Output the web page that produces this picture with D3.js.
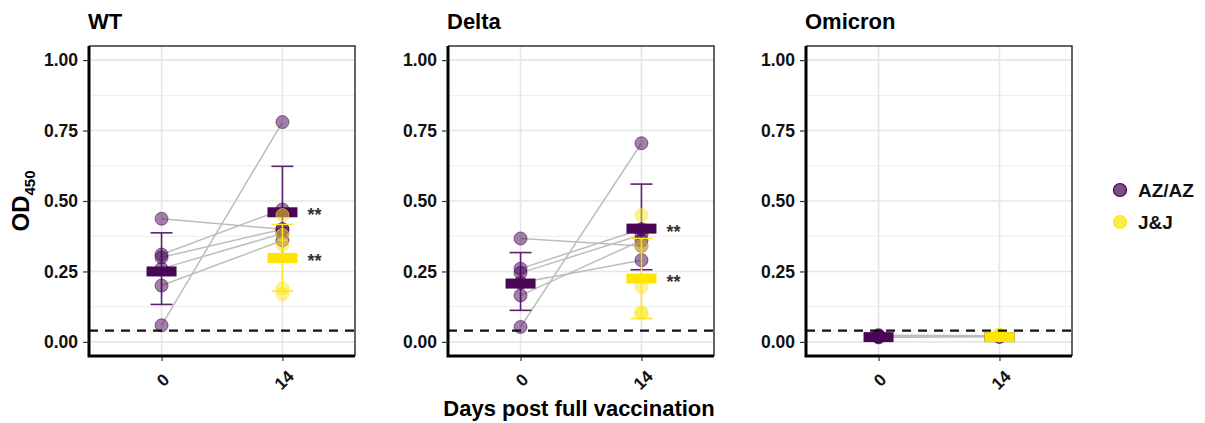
<!DOCTYPE html>
<html>
<head>
<meta charset="utf-8">
<script src="https://cdn.jsdelivr.net/npm/d3@7"></script>
<style>
  body { margin: 0; background: #fff; }
  svg { font-family: "Liberation Sans", Arial, sans-serif; }
</style>
</head>
<body>
<div id="chart"></div>
<script>
// Panels and x categories
const variants = ["WT", "Delta", "Omicron"];
const days = ["0", "14"];
const yTicks = [0, 0.25, 0.5, 0.75, 1];
const cutoff = 0.04;

// AZ/AZ paired individuals (day 0 -> day 14), same order in both arrays
const wtAZ0 = [0.437, 0.31, 0.30, 0.26, 0.20, 0.059];
const wtAZ14 = [0.40, 0.47, 0.40, 0.385, 0.36, 0.78];
const deltaAZ0 = [0.367, 0.26, 0.245, 0.21, 0.165, 0.053];
const deltaAZ14 = [0.34, 0.40, 0.38, 0.29, 0.36, 0.705];
const omicronAZ0 = [0.022, 0.02, 0.018, 0.024, 0.02, 0.016];
const omicronAZ14 = [0.02, 0.018, 0.02, 0.022, 0.019, 0.02];

// J&J only at day 14
const wtJJ14 = [0.45, 0.38, 0.345, 0.19, 0.17];
const deltaJJ14 = [0.45, 0.34, 0.195, 0.105, 0.10];
const omicronJJ14 = [0.026, 0.024, 0.022, 0.025];

// Mean and error bar ends (WT, Delta, Omicron)
const azMean0 = [0.25, 0.207, 0.017];
const azLo0 = [0.133, 0.112, 0.012];
const azHi0 = [0.387, 0.317, 0.022];
const azMean14 = [0.46, 0.402, 0.017];
const azLo14 = [0.297, 0.256, 0.012];
const azHi14 = [0.623, 0.56, 0.022];
const jjMean14 = [0.298, 0.225, 0.017];
const jjLo14 = [0.18, 0.083, 0.012];
const jjHi14 = [0.417, 0.367, 0.022];

const groups = ["AZ/AZ", "J&J"];
const colors = { "AZ/AZ": "#440154", "J&J": "#FDE725" };

const azPairs = [[wtAZ0, wtAZ14], [deltaAZ0, deltaAZ14], [omicronAZ0, omicronAZ14]];
const jjPoints = [wtJJ14, deltaJJ14, omicronJJ14];
const stars = [true, true, false];

const W = 1205, H = 423;
const svg = d3.select("#chart").append("svg")
  .attr("width", W).attr("height", H);

const panelLeft = [89, 448, 806];
const pw = 266, pTop = 46, pBottom = 356;

const y = d3.scaleLinear().domain([-0.05, 1.05]).range([pBottom, pTop]);
const minorTicks = d3.range(0.125, 1.05, 0.25);

variants.forEach((v, i) => {
  const g = svg.append("g").attr("transform", `translate(${panelLeft[i]},0)`);
  const x = d3.scalePoint().domain(days).range([0, pw]).padding(0.6);

  // grid
  g.selectAll(".minor").data(minorTicks).join("line")
    .attr("x1", 0).attr("x2", pw)
    .attr("y1", d => y(d)).attr("y2", d => y(d))
    .attr("stroke", "#ececec").attr("stroke-width", 1);
  g.selectAll(".major").data(yTicks).join("line")
    .attr("x1", 0).attr("x2", pw)
    .attr("y1", d => y(d)).attr("y2", d => y(d))
    .attr("stroke", "#e6e6e6").attr("stroke-width", 1.6);
  g.selectAll(".vmajor").data(days).join("line")
    .attr("x1", d => x(d)).attr("x2", d => x(d))
    .attr("y1", pTop).attr("y2", pBottom)
    .attr("stroke", "#e6e6e6").attr("stroke-width", 1.6);

  // paired lines
  const [d0, d14] = azPairs[i];
  g.selectAll(".pair").data(d0).join("line")
    .attr("x1", x("0")).attr("x2", x("14"))
    .attr("y1", d => y(d)).attr("y2", (d, j) => y(d14[j]))
    .attr("stroke", "#bdbdbd").attr("stroke-width", 1.5);

  function errorbar(cx, lo, hi, color) {
    const cw = 11;
    g.append("line").attr("x1", cx).attr("x2", cx)
      .attr("y1", y(lo)).attr("y2", y(hi))
      .attr("stroke", color).attr("stroke-width", 1.6);
    [lo, hi].forEach(val => {
      g.append("line").attr("x1", cx - cw).attr("x2", cx + cw)
        .attr("y1", y(val)).attr("y2", y(val))
        .attr("stroke", color).attr("stroke-width", 1.6);
    });
  }
  function points(cx, vals, color) {
    g.selectAll(null).data(vals).join("circle")
      .attr("cx", cx).attr("cy", d => y(d)).attr("r", 6.5)
      .attr("fill", color).attr("fill-opacity", 0.5)
      .attr("stroke", color).attr("stroke-opacity", 0.55).attr("stroke-width", 1);
  }
  function meanBar(cx, m, color) {
    g.append("rect").attr("x", cx - 15).attr("y", y(m) - 5)
      .attr("width", 30).attr("height", 10).attr("fill", color);
  }

  // AZ/AZ
  errorbar(x("0"), azLo0[i], azHi0[i], "#5e2270");
  errorbar(x("14"), azLo14[i], azHi14[i], "#5e2270");
  points(x("0"), d0, colors["AZ/AZ"]);
  points(x("14"), d14, colors["AZ/AZ"]);
  meanBar(x("0"), azMean0[i], "#4a0656");
  meanBar(x("14"), azMean14[i], "#4a0656");

  // J&J
  errorbar(x("14"), jjLo14[i], jjHi14[i], "#fde725");
  points(x("14"), jjPoints[i], colors["J&J"]);
  meanBar(x("14"), jjMean14[i], "#ffe500");

  // cutoff
  g.append("line").attr("x1", 0).attr("x2", pw)
    .attr("y1", y(cutoff)).attr("y2", y(cutoff))
    .attr("stroke", "#111").attr("stroke-width", 2.2)
    .attr("stroke-dasharray", "9,7");

  if (stars[i]) {
    [azMean14[i], jjMean14[i]].forEach(m => {
      g.append("text").attr("x", x("14") + 25).attr("y", y(m) + 9)
        .attr("font-size", 18).attr("font-weight", "bold").attr("fill", "#333")
        .text("**");
    });
  }

  // frame: thin top/right, thick left/bottom
  g.append("path").attr("d", `M0,${pTop}H${pw}V${pBottom}`)
    .attr("fill", "none").attr("stroke", "#333").attr("stroke-width", 1.5);
  g.append("path").attr("d", `M0,${pTop}V${pBottom}H${pw}`)
    .attr("fill", "none").attr("stroke", "#000").attr("stroke-width", 3);

  // y axis
  const ya = g.append("g").call(d3.axisLeft(y).tickValues(yTicks)
    .tickFormat(d3.format(".2f")).tickSize(6).tickPadding(5));
  ya.select(".domain").remove();
  ya.selectAll(".tick line").attr("stroke", "#333").attr("stroke-width", 1.2).attr("x2", -6);
  ya.selectAll(".tick text").attr("font-size", 17.5).attr("font-weight", "bold")
    .attr("fill", "#111").attr("font-family", "Liberation Sans, Arial, sans-serif");

  // x axis
  const xa = g.append("g").attr("transform", `translate(0,${pBottom})`)
    .call(d3.axisBottom(x).tickSize(5).tickPadding(0));
  xa.select(".domain").remove();
  xa.selectAll(".tick line").attr("stroke", "#333").attr("stroke-width", 1.2).attr("y1", 1);
  xa.selectAll(".tick text")
    .attr("font-size", 17).attr("font-weight", "bold").attr("fill", "#111")
    .attr("font-family", "Liberation Sans, Arial, sans-serif")
    .attr("text-anchor", "middle").attr("dy", 0).attr("y", 0)
    .attr("transform", "translate(2,25) rotate(-45)")
    .attr("dominant-baseline", "middle");

  // panel title
  g.append("text").attr("x", -1).attr("y", 29)
    .attr("font-size", 22).attr("font-weight", "bold").attr("fill", "#000")
    .text(v);
});

// axis titles
svg.append("text").attr("x", 579).attr("y", 416).attr("text-anchor", "middle")
  .attr("font-size", 22).attr("font-weight", "bold").text("Days post full vaccination");

const yl = svg.append("text").attr("transform", "translate(29,201) rotate(-90)")
  .attr("text-anchor", "middle").attr("font-size", 24).attr("font-weight", "bold");
yl.append("tspan").text("OD");
yl.append("tspan").attr("font-size", 15).attr("dy", 6).text("450");

// legend
const leg = svg.append("g").attr("transform", "translate(1120,190)");
groups.forEach((k, j) => {
  const row = leg.append("g").attr("transform", `translate(0,${j * 32})`);
  row.append("circle").attr("r", 6.5)
    .attr("fill", colors[k]).attr("fill-opacity", j === 0 ? 0.7 : 0.85)
    .attr("stroke", colors[k]).attr("stroke-width", 1.2);
  row.append("text").attr("x", 18).attr("y", 7)
    .attr("font-size", 19).attr("font-weight", "bold").attr("fill", "#111").text(k);
});
</script>
</body>
</html>
